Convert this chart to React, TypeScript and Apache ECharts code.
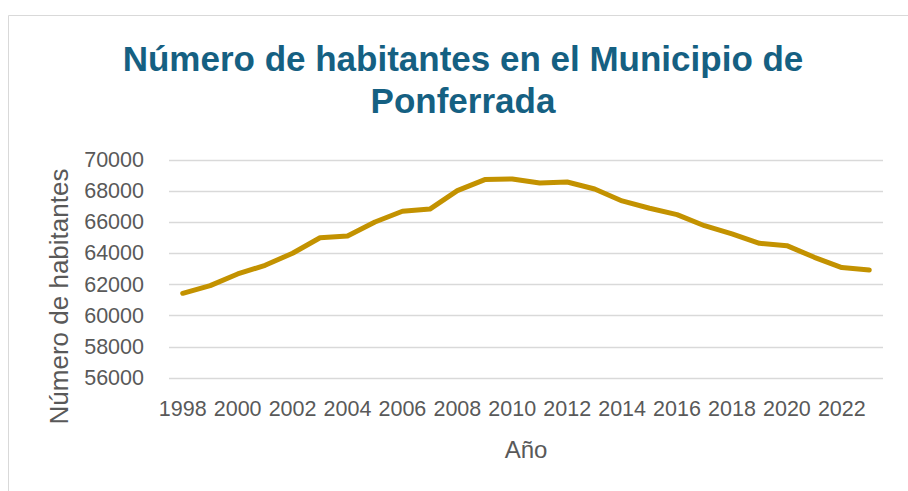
import React, { useEffect, useRef } from "react";
import * as echarts from "echarts";

const years: string[] = [
  "1998", "1999", "2000", "2001", "2002", "2003", "2004", "2005", "2006",
  "2007", "2008", "2009", "2010", "2011", "2012", "2013", "2014", "2015",
  "2016", "2017", "2018", "2019", "2020", "2021", "2022", "2023",
];

const habitantes: number[] = [
  61440, 61930, 62680, 63240, 64010, 65010, 65120, 66020, 66710, 66850,
  68030, 68740, 68780, 68520, 68590, 68140, 67370, 66900, 66490, 65780,
  65250, 64650, 64500, 63750, 63090, 62940,
];

const titleText = "Número de habitantes en el Municipio de\nPonferrada";
const yAxisTitle = "Número de habitantes";
const xAxisTitle = "Año";

const FONT = "'Liberation Sans', Arial, sans-serif";
const TEXT_COLOR = "#595959";

export default function App() {
  const ref = useRef<HTMLDivElement>(null);

  useEffect(() => {
    if (!ref.current) return;
    const chart = echarts.init(ref.current, undefined, { renderer: "svg" });
    chart.setOption({
      animation: false,
      backgroundColor: "#ffffff",
      textStyle: { fontFamily: FONT },
      graphic: [
        {
          type: "rect",
          silent: true,
          shape: { x: 8.5, y: 15.5, width: 1000, height: 1000 },
          style: { fill: "none", stroke: "#d9d9d9", lineWidth: 1 },
        },
        {
          type: "text",
          silent: true,
          style: {
            text: titleText,
            x: 463,
            y: 37,
            align: "center",
            verticalAlign: "top",
            lineHeight: 42.5,
            fontSize: 35,
            fontWeight: "bold",
            fontFamily: FONT,
            fill: "#156082",
          },
        },
        {
          type: "text",
          silent: true,
          x: 59,
          y: 296.5,
          rotation: Math.PI / 2,
          style: {
            text: yAxisTitle,
            x: 0,
            y: 0,
            align: "center",
            verticalAlign: "middle",
            fontSize: 26,
            fontFamily: FONT,
            fill: TEXT_COLOR,
          },
        },
      ],
      grid: { left: 169, right: 25, top: 160, bottom: 113, containLabel: false },
      xAxis: {
        type: "category",
        data: years,
        boundaryGap: true,
        axisLine: { show: false },
        axisTick: { show: false },
        axisLabel: {
          interval: 1,
          color: TEXT_COLOR,
          fontSize: 21.5,
          fontFamily: FONT,
          margin: 20,
        },
        name: xAxisTitle,
        nameLocation: "middle",
        nameGap: 59,
        nameTextStyle: { color: TEXT_COLOR, fontSize: 24, fontFamily: FONT },
      },
      yAxis: {
        type: "value",
        min: 56000,
        max: 70000,
        interval: 2000,
        axisLine: { show: false },
        axisTick: { show: false },
        axisLabel: {
          color: TEXT_COLOR,
          fontSize: 21.5,
          fontFamily: FONT,
          margin: 25,
          formatter: (v: number) => String(v),
        },
        splitLine: { lineStyle: { color: "#d9d9d9", width: 1.3 } },
      },
      series: [
        {
          type: "line",
          data: habitantes,
          symbol: "none",
          lineStyle: { color: "#C39200", width: 5, cap: "round", join: "round" },
        },
      ],
    });
    return () => chart.dispose();
  }, []);

  return (
    <div
      ref={ref}
      style={{ position: "fixed", left: 0, top: 0, width: 908, height: 491 }}
    />
  );
}
